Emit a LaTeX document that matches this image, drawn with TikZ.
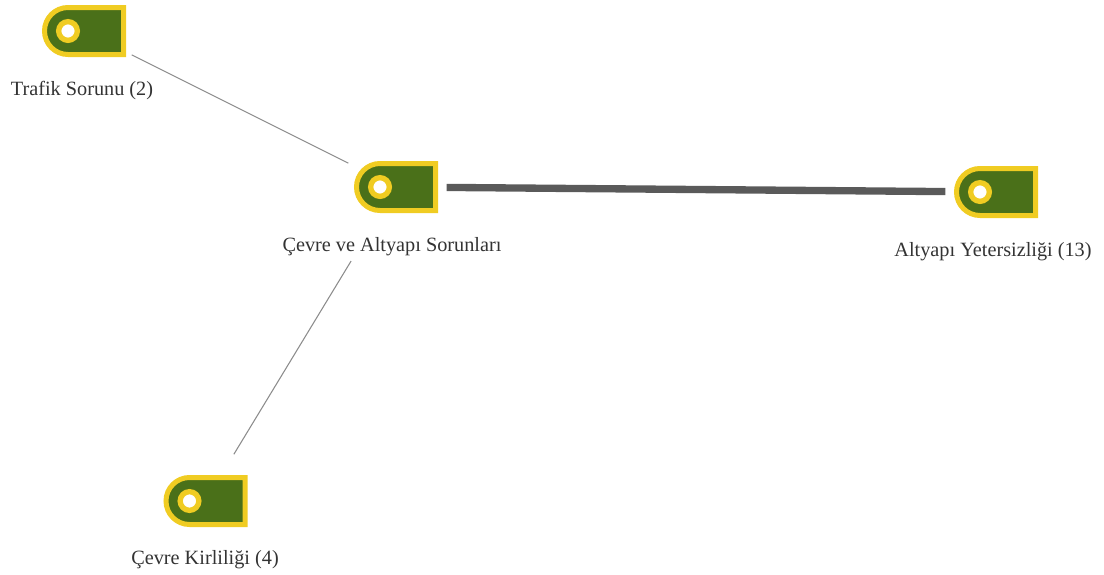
\documentclass[tikz,border=0pt]{standalone}
\usepackage{fontspec}
\setmainfont{Liberation Serif}
\usetikzlibrary{shapes.misc}
\definecolor{tagyellow}{HTML}{F0CC22}
\definecolor{taggreen}{HTML}{4A7019}
\definecolor{linkgray}{HTML}{5A5A5A}
\newcommand{\pxscale}{0.75pt}
\begin{document}
\begin{tikzpicture}[
	x=\pxscale, y=-\pxscale,
	tag/.style = {draw=tagyellow,fill=taggreen,line width=3.75pt,rounded rectangle,rounded rectangle east arc=none,minimum width=59.25pt,minimum height=35.25pt,inner sep=0pt},
	hole/.style = {draw=tagyellow,fill=white,circle,line width=4pt,minimum size=14pt,inner sep=0pt},
	caption/.style = {text=black!80,font=\fontsize{15.2pt}{17pt}\selectfont,inner sep=0pt},
	thin link/.style = {draw=black!45,line width=0.8pt},
	thick link/.style = {draw=linkgray,line width=5.5pt}
	]
	\useasboundingbox (0,0) rectangle (1104,575);

	\coordinate (@trafik) at (84,31);
	\coordinate (@cevre) at (396,187);
	\coordinate (@altyapi) at (996,192);
	\coordinate (@kirlilik) at (205.5,501);

	\node[tag] (trafik) at (@trafik) {};
	\node[tag] (cevre) at (@cevre) {};
	\node[tag] (altyapi) at (@altyapi) {};
	\node[tag] (kirlilik) at (@kirlilik) {};

	\node[hole] (trafikhole) at ([xshift=-12pt]trafik.center) {};
	\node[hole] (cevrehole) at ([xshift=-12pt]cevre.center) {};
	\node[hole] (altyapihole) at ([xshift=-12pt]altyapi.center) {};
	\node[hole] (kirlilikhole) at ([xshift=-12pt]kirlilik.center) {};

	\node[caption] (trafiklabel) at (82,91) {Trafik Sorunu (2)};
	\node[caption] (cevrelabel) at (392,247) {Çevre ve Altyapı Sorunları};
	\node[caption] (altyapilabel) at (993,252) {Altyapı Yetersizliği (13)};
	\node[caption] (kirliliklabel) at (205,560) {Çevre Kirliliği (4)};

	\draw[thin link,shorten <=40pt,shorten >=40pt] (trafik.center) to (cevre.center);
	\draw[thick link,shorten <=38pt,shorten >=38pt] (cevre.center) to (altyapi.center);
	\draw[thin link,shorten <=65pt,shorten >=41pt] (cevre.center) to (kirlilik.center);
\end{tikzpicture}
\end{document}
